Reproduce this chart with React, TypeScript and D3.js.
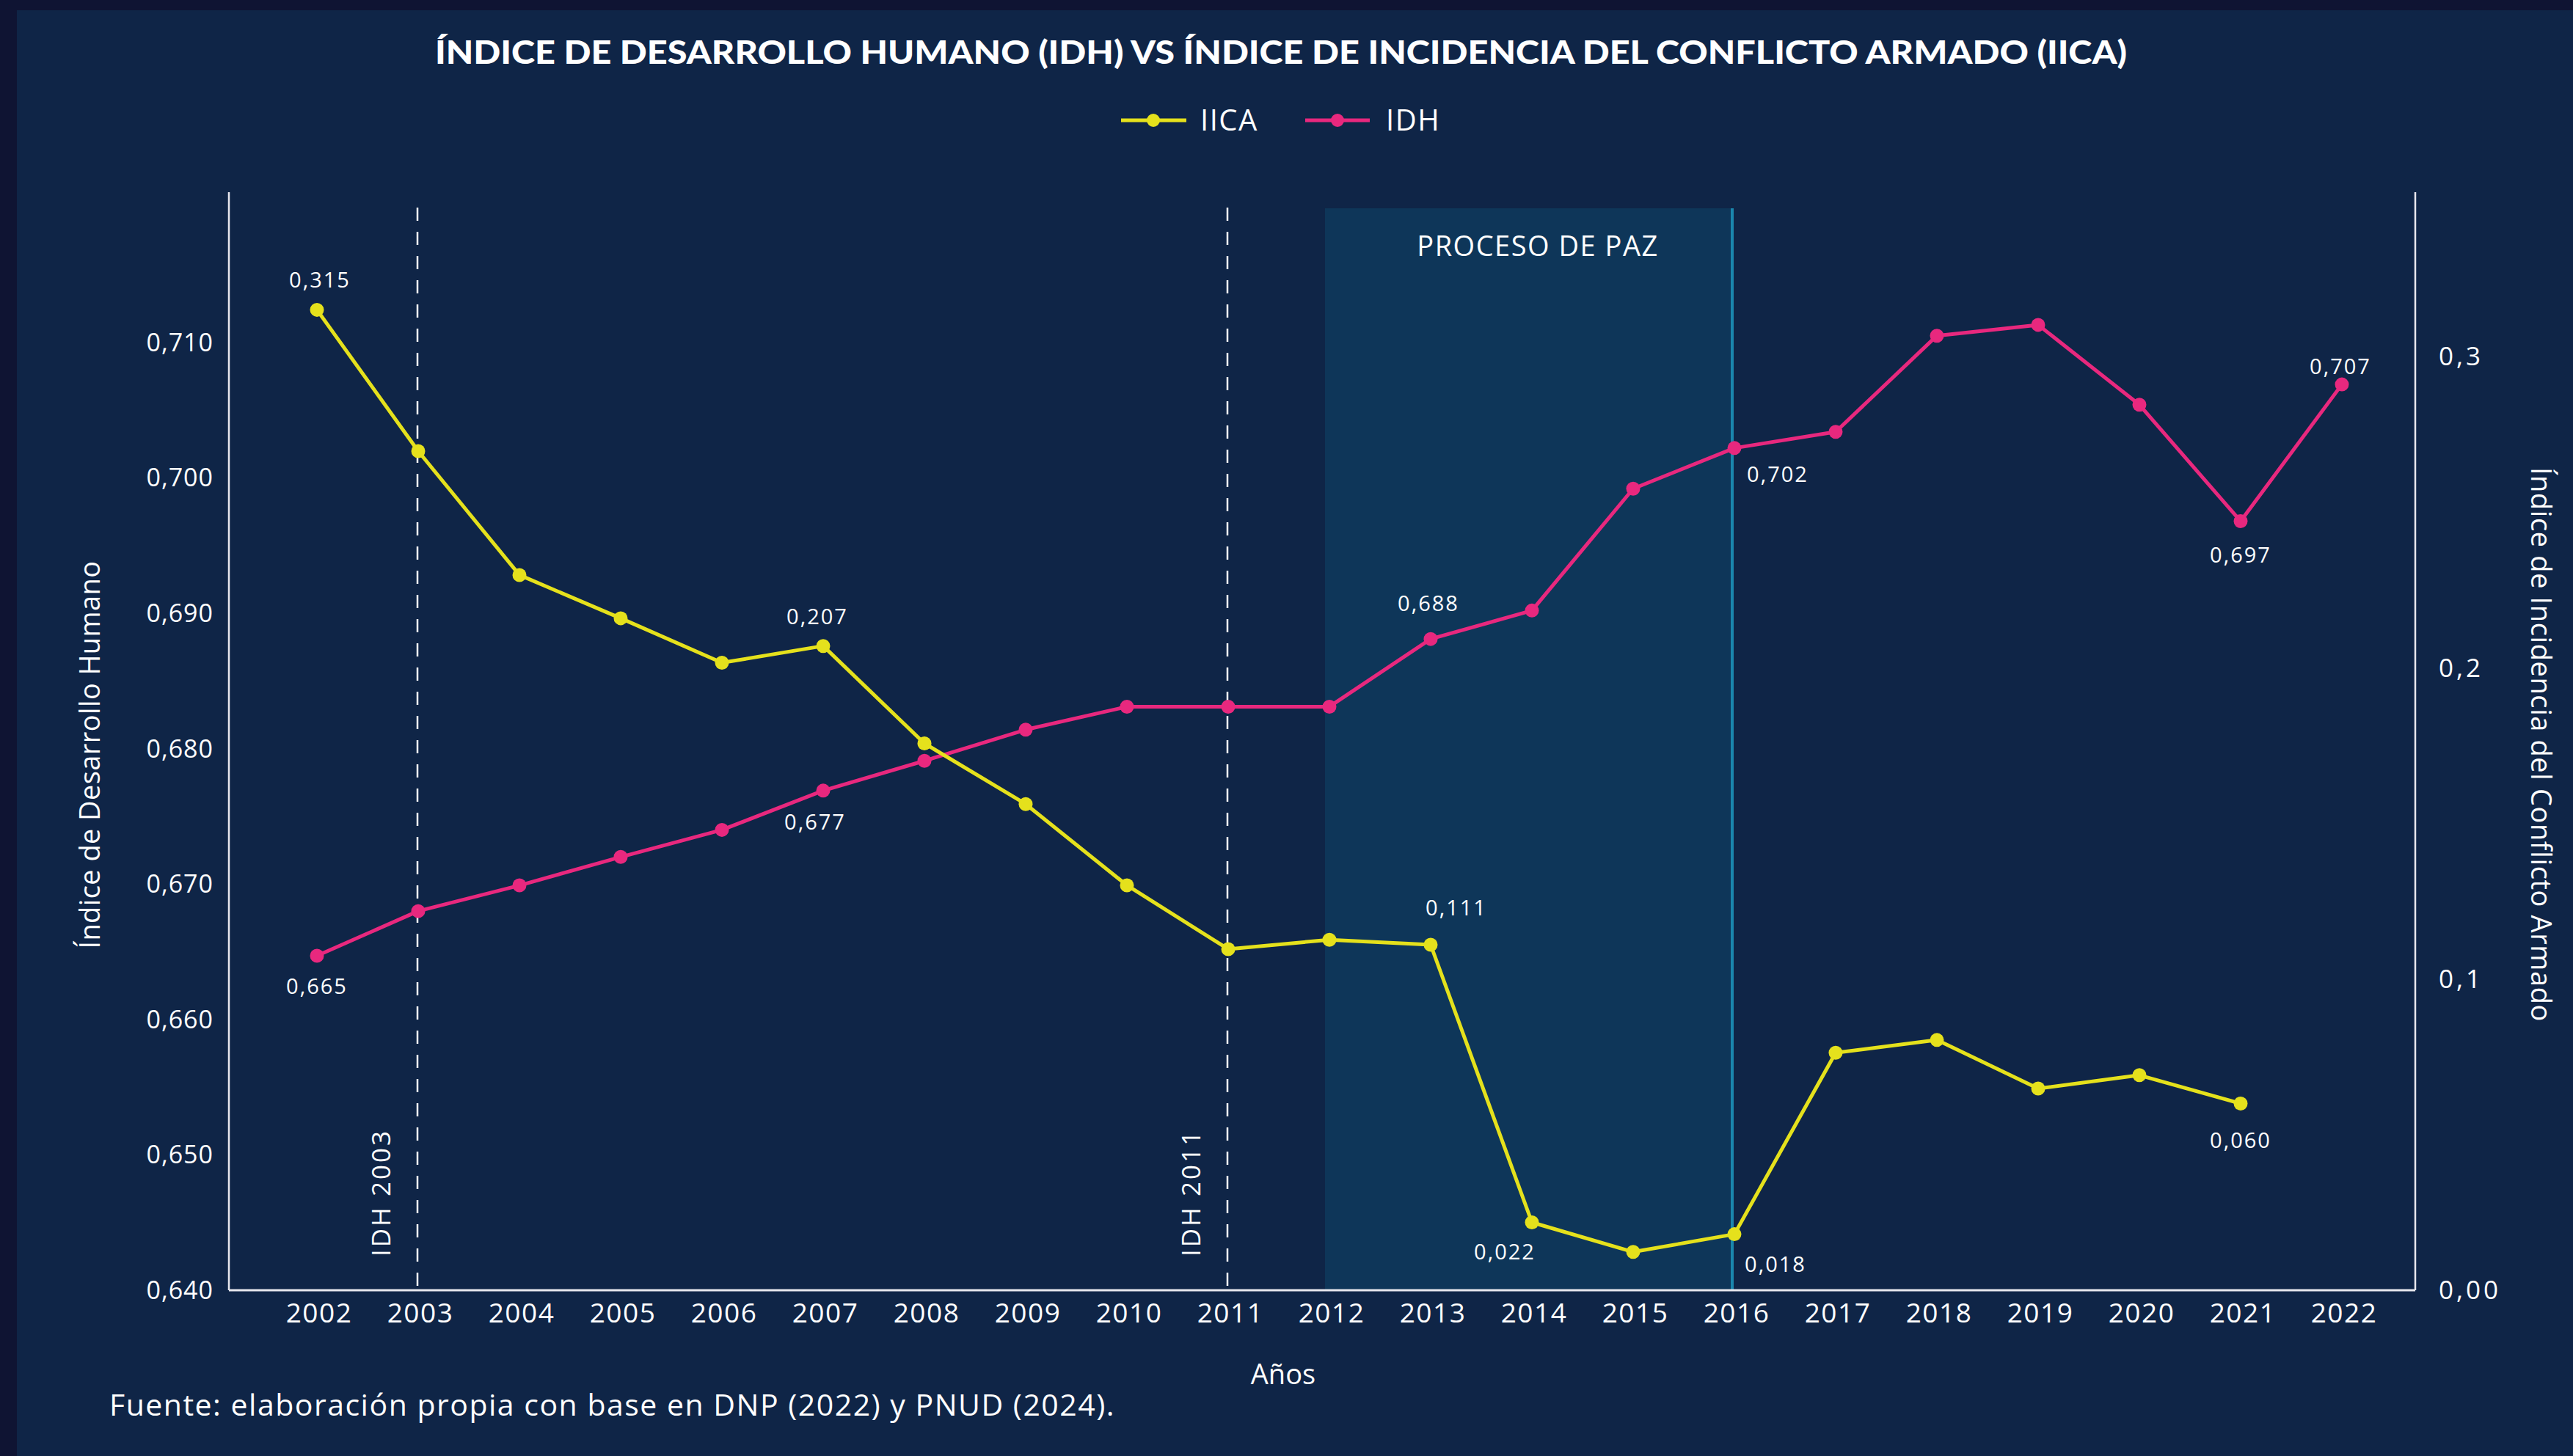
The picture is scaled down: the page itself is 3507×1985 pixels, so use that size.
import React from "react";
import * as d3 from "d3";

// ---------- DATA ----------
const years = [2002, 2003, 2004, 2005, 2006, 2007, 2008, 2009, 2010, 2011, 2012, 2013, 2014, 2015, 2016, 2017, 2018, 2019, 2020, 2021, 2022];
const idh = [0.6647, 0.668, 0.6699, 0.672, 0.674, 0.6769, 0.6791, 0.6814, 0.6831, 0.6831, 0.6831, 0.6881, 0.6902, 0.6992, 0.7022, 0.7034, 0.7105, 0.7113, 0.7054, 0.6968, 0.7069];
const iicaYears = [2002, 2003, 2004, 2005, 2006, 2007, 2008, 2009, 2010, 2011, 2012, 2013, 2014, 2015, 2016, 2017, 2018, 2019, 2020, 2021];
const iica = [0.315, 0.2696, 0.2298, 0.2159, 0.2016, 0.207, 0.1757, 0.1562, 0.1301, 0.1096, 0.1126, 0.111, 0.0218, 0.0123, 0.018, 0.0763, 0.0804, 0.0648, 0.0691, 0.06];

const leftTicks = [0.64, 0.65, 0.66, 0.67, 0.68, 0.69, 0.7, 0.71];
const rightTicks = [0, 0.1, 0.2, 0.3];
const rightTickLabels = ["0,00", "0,1", "0,2", "0,3"];

const idhLabelYears = [2002, 2007, 2013, 2016, 2021, 2022];
const idhLabelTexts = ["0,665", "0,677", "0,688", "0,702", "0,697", "0,707"];
const iicaLabelYears = [2002, 2007, 2013, 2014, 2016, 2021];
const iicaLabelTexts = ["0,315", "0,207", "0,111", "0,022", "0,018", "0,060"];

const markerYears = [2003, 2011];
const markerTexts = ["IDH 2003", "IDH 2011"];
const peaceStart = 2012;
const peaceEnd = 2016;

const title = "ÍNDICE DE DESARROLLO HUMANO (IDH) VS ÍNDICE DE INCIDENCIA DEL CONFLICTO ARMADO (IICA)";
const source = "Fuente: elaboración propia con base en DNP (2022) y PNUD (2024).";

// ---------- LAYOUT / STYLE ----------
const W = 3507;
const H = 1985;
const FONT = "'Open Sans', 'Noto Sans', sans-serif";
const TITLE_FONT = "Lato, 'Open Sans', sans-serif";
const YELLOW = "#e5e11c";
const PINK = "#e8287e";
const BG = "#0f2547";
const FRAME = "#0f1433";
const PEACE = "#0e3659";
const TEAL = "#1a86ad";
const plotLeft = 312;
const plotRight = 3292;
const plotTop = 262;
const plotBottom = 1759;

// label offsets [dx, dy] relative to point (centre of text)
const idhOffsets = [[0, 42], [-11, 43], [-3, -48], [59, 36], [0, 46], [-2, -24]];
const iicaOffsets = [[4, -41], [-8, -40], [35, -50], [-37, 40], [56, 41], [0, 50]];

const fmtL = d3.formatLocale({ decimal: ",", thousands: ".", grouping: [3], currency: ["$", ""] }).format(".3f");

export default function App() {
  const x = d3.scaleLinear().domain([2002, 2022]).range([432, 3192]);
  const yL = d3.scaleLinear().domain([0.64, 0.7211]).range([plotBottom, plotTop]);
  const yR = d3.scaleLinear().domain([0, 0.3528]).range([plotBottom, plotTop]);

  const idhPts = years.map((yr, i) => [x(yr), yL(idh[i])] as [number, number]);
  const iicaPts = iicaYears.map((yr, i) => [x(yr), yR(iica[i])] as [number, number]);
  const line = d3.line();

  const peaceX0 = x(peaceStart) - 6;
  const peaceX1 = x(peaceEnd) - 3;

  return (
    <svg width={W} height={H} style={{ position: "absolute", left: 0, top: 0 }} fontFamily={FONT}>
      <rect x={0} y={0} width={W} height={H} fill={FRAME} />
      <rect x={23} y={14} width={W - 23} height={H - 14} fill={BG} />

      {/* title */}
      <text x={1746} y={87} textAnchor="middle" fill="#fff" fontSize={44} fontWeight={900} fontFamily={TITLE_FONT}
        textLength={2306} lengthAdjust="spacingAndGlyphs">{title}</text>

      {/* legend */}
      <g>
        <line x1={1528} x2={1617} y1={164} y2={164} stroke={YELLOW} strokeWidth={5} />
        <circle cx={1572} cy={164} r={9} fill={YELLOW} />
        <text x={1636} y={178} fill="#fff" fontSize={40} letterSpacing={1.5}>IICA</text>
        <line x1={1779} x2={1867} y1={164} y2={164} stroke={PINK} strokeWidth={5} />
        <circle cx={1823} cy={164} r={9} fill={PINK} />
        <text x={1889} y={178} fill="#fff" fontSize={40} letterSpacing={1.5}>IDH</text>
      </g>

      {/* peace process */}
      <rect x={peaceX0} y={284} width={peaceX1 - peaceX0} height={plotBottom - 284} fill={PEACE} />
      <line x1={peaceX1} x2={peaceX1} y1={284} y2={plotBottom} stroke={TEAL} strokeWidth={4} />
      <text x={2096} y={349} textAnchor="middle" fill="#fff" fontSize={38} letterSpacing={1.5}>PROCESO DE PAZ</text>

      {/* marker dashed lines */}
      {markerYears.map((yr, i) => (
        <g key={yr}>
          <line x1={x(yr) - 1} x2={x(yr) - 1} y1={283} y2={plotBottom} stroke="#fff" strokeWidth={2.5} strokeDasharray="18 15" />
          <text transform={`translate(${x(yr) - 50},${1626}) rotate(-90)`} textAnchor="middle" dy="0.35em"
            fill="#fff" fontSize={35} letterSpacing={3}>{markerTexts[i]}</text>
        </g>
      ))}

      {/* axes */}
      <line x1={plotLeft} x2={plotLeft} y1={plotTop} y2={plotBottom} stroke="#e8e8ee" strokeWidth={2.5} />
      <line x1={plotRight} x2={plotRight} y1={plotTop} y2={plotBottom} stroke="#e8e8ee" strokeWidth={2.5} />
      <line x1={plotLeft} x2={plotRight} y1={plotBottom} y2={plotBottom} stroke="#e8e8ee" strokeWidth={3} />

      {leftTicks.map((t) => (
        <text key={t} x={291} y={yL(t)} dy="0.35em" textAnchor="end" fill="#fff" fontSize={34} letterSpacing={1}>{fmtL(t)}</text>
      ))}
      {rightTicks.map((t, i) => (
        <text key={t} x={3324} y={yR(t)} dy="0.35em" textAnchor="start" fill="#fff" fontSize={35} letterSpacing={4}>{rightTickLabels[i]}</text>
      ))}
      {years.map((yr) => (
        <text key={yr} x={x(yr) + 3} y={1803} textAnchor="middle" fill="#fff" fontSize={37} letterSpacing={1.5}>{yr}</text>
      ))}

      <text x={1749} y={1887} textAnchor="middle" fill="#fff" fontSize={38}>Años</text>
      <text transform={`translate(123,1029) rotate(-90)`} textAnchor="middle" dy="0.35em" fill="#fff" fontSize={38} letterSpacing={0.4}>Índice de Desarrollo Humano</text>
      <text transform={`translate(3463,1015) rotate(90)`} textAnchor="middle" dy="0.35em" fill="#fff" fontSize={38} letterSpacing={0.6}>Índice de Incidencia del Conflicto Armado</text>

      {/* series */}
      <path d={line(idhPts) || ""} fill="none" stroke={PINK} strokeWidth={5} strokeLinejoin="round" />
      {idhPts.map((p, i) => <circle key={"p" + i} cx={p[0]} cy={p[1]} r={9.5} fill={PINK} />)}
      <path d={line(iicaPts) || ""} fill="none" stroke={YELLOW} strokeWidth={5} strokeLinejoin="round" />
      {iicaPts.map((p, i) => <circle key={"y" + i} cx={p[0]} cy={p[1]} r={9.5} fill={YELLOW} />)}

      {/* data labels */}
      {idhLabelYears.map((yr, i) => {
        const idx = years.indexOf(yr);
        return (
          <text key={"li" + yr} x={x(yr) + idhOffsets[i][0]} y={yL(idh[idx]) + idhOffsets[i][1]} dy="0.35em"
            textAnchor="middle" fill="#fff" fontSize={29} letterSpacing={2}>{idhLabelTexts[i]}</text>
        );
      })}
      {iicaLabelYears.map((yr, i) => {
        const idx = iicaYears.indexOf(yr);
        return (
          <text key={"lc" + yr} x={x(yr) + iicaOffsets[i][0]} y={yR(iica[idx]) + iicaOffsets[i][1]} dy="0.35em"
            textAnchor="middle" fill="#fff" fontSize={29} letterSpacing={2}>{iicaLabelTexts[i]}</text>
        );
      })}

      <text x={149} y={1930} fill="#fff" fontSize={41} letterSpacing={1.5}>{source}</text>
    </svg>
  );
}
